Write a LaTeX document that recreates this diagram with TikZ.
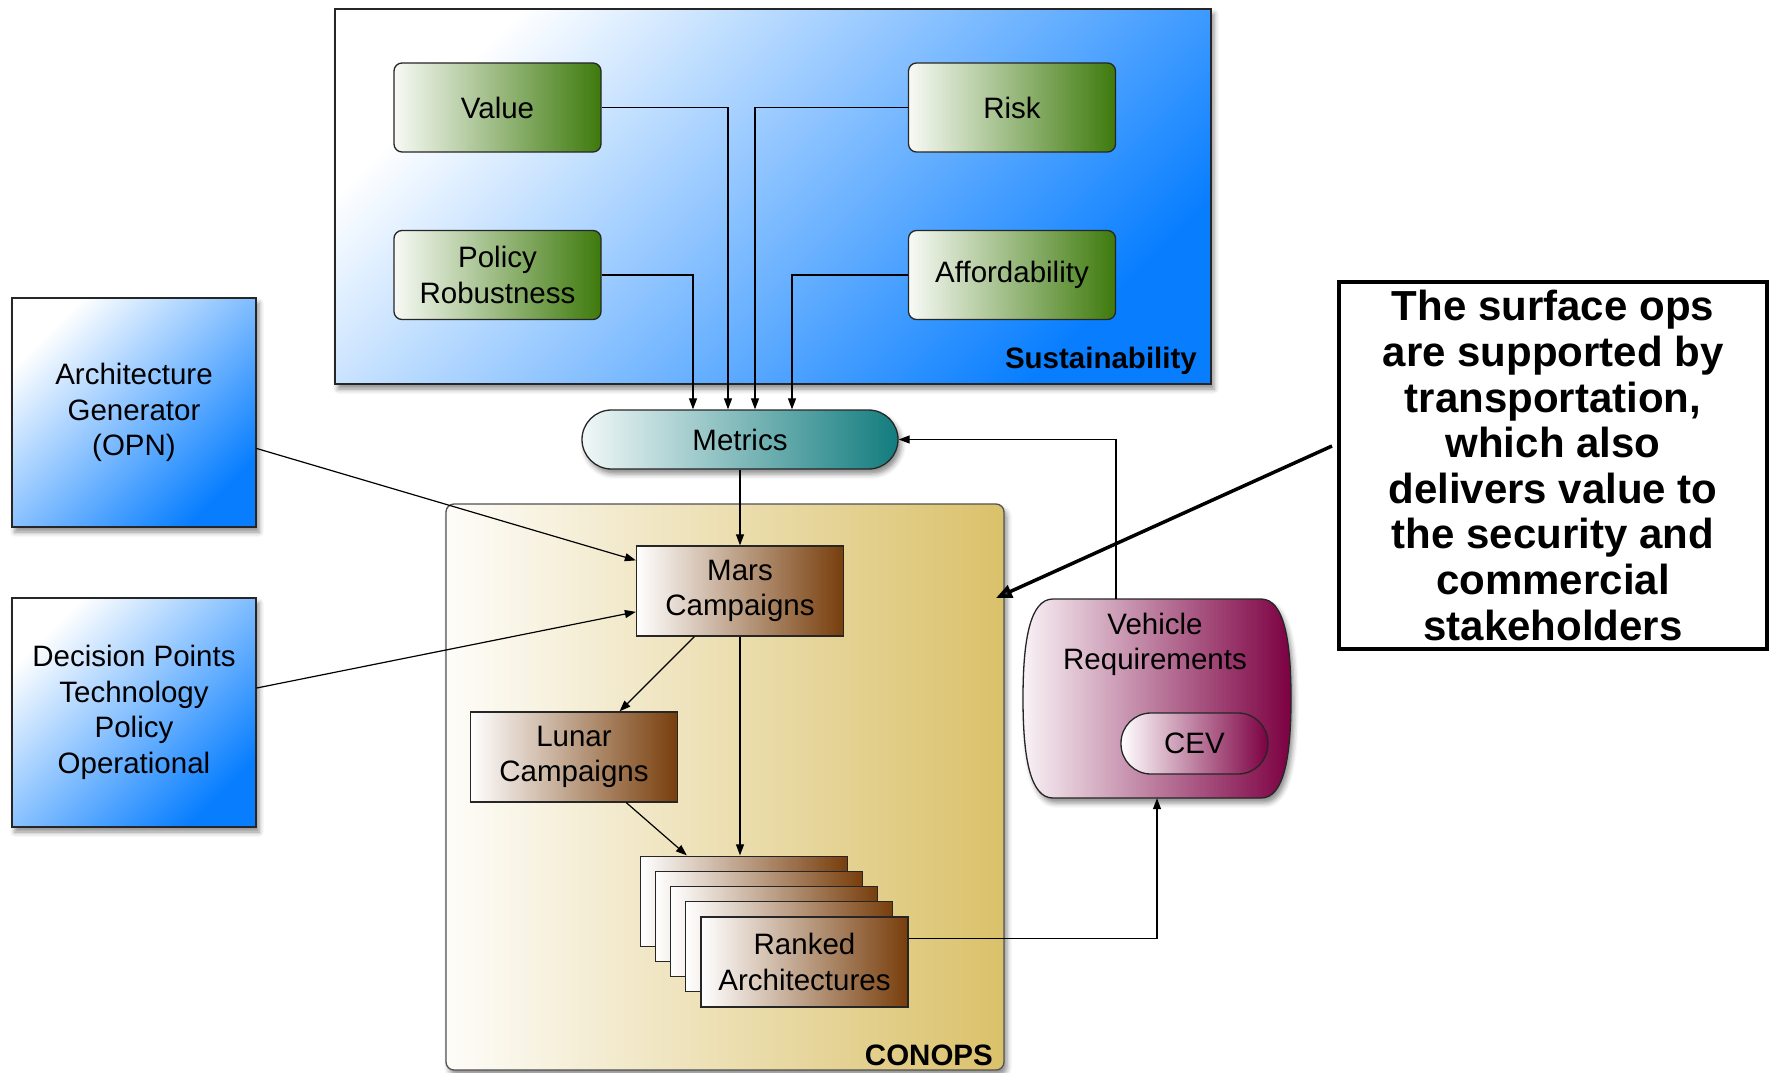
\documentclass[tikz,border=0pt]{standalone}
\usepackage{fontspec}
\setmainfont{Liberation Sans}
\usetikzlibrary{arrows.meta,calc,shadows.blur,fit}

\definecolor{skyblue}{RGB}{8,126,255}
\definecolor{leaf}{RGB}{62,122,12}
\definecolor{bark}{RGB}{120,62,12}
\definecolor{tealc}{RGB}{18,124,126}
\definecolor{sand}{RGB}{218,193,106}
\definecolor{plum}{RGB}{124,0,66}
\definecolor{edge}{RGB}{38,38,38}

\tikzset{
  base/.style={draw=edge, line width=1.3pt, align=center, inner sep=0pt,
    font=\fontsize{29.5}{35.5}\selectfont},
  softshadow/.style={blur shadow={shadow xshift=3pt, shadow yshift=-5pt,
    shadow blur radius=5pt, shadow opacity=45}},
  bluepanel/.style={base, top color=white, bottom color=skyblue, shading angle=45, softshadow},
  greenbox/.style={base, rounded corners=8pt, left color=leaf!4, right color=leaf,
    minimum width=207pt, minimum height=89pt},
  brownbox/.style={base, left color=white, right color=bark,
    minimum width=207pt, minimum height=90pt},
  flow/.style={line width=1.2pt, draw=black, -{Triangle[length=11pt,width=8pt]}},
  panellabel/.style={font=\fontsize{29.5}{35.5}\selectfont\bfseries, anchor=east, inner sep=0pt}
}

\begin{document}
\begin{tikzpicture}[x=1pt, y=-1pt]
\useasboundingbox (0,0) rectangle (1769,1073);

% Sustainability panel and its four measures
\node[bluepanel, minimum width=876pt, minimum height=375pt] (sust) at (773,196.5) {};
\node[panellabel] (sustlabel) at (1197,361) {Sustainability};
\node[greenbox] (value) at (497.5,107.5) {Value};
\node[greenbox] (risk) at (1012,107.5) {Risk};
\node[greenbox] (policy) at (497.5,275) {Policy\\Robustness};
\node[greenbox] (afford) at (1012,275) {Affordability};

% Metrics terminator
\node[base, rounded corners=29.5pt, left color=tealc!6, right color=tealc,
  minimum width=316pt, minimum height=59pt, softshadow] (metrics) at (740,439.5) {Metrics};

% CONOPS panel
\node[base, draw=edge!80, rounded corners=8pt, left color=sand!4, right color=sand,
  minimum width=558pt, minimum height=566pt, softshadow] (conops) at (725,787) {};
\node[panellabel] (conopslabel) at (993,1055) {CONOPS};

\node[brownbox] (mars) at (740,591) {Mars\\Campaigns};
\node[brownbox] (lunar) at (574,757) {Lunar\\Campaigns};

% Stack of ranked architectures
\node[brownbox] (r1) at (743.7,901.2) {};
\node[brownbox] (r2) at (758.9,916.4) {};
\node[brownbox] (r3) at (774.1,931.6) {};
\node[brownbox] (r4) at (789.3,946.8) {};
\node[brownbox] (ranked) at (804.5,962) {Ranked\\Architectures};
\node[fit=(r1)(ranked), inner sep=0pt] (stack) {};

% Input panels on the left
\node[bluepanel, minimum width=244pt, minimum height=229pt] (arch) at (134,412.5)
  {Architecture\\Generator\\(OPN)};
\node[bluepanel, minimum width=244pt, minimum height=229pt] (decision) at (134,712.5)
  {Decision Points\\Technology\\Policy\\Operational};

% Vehicle requirements barrel
\path[draw=edge, line width=1.3pt, left color=plum!5, right color=plum, softshadow]
  (1053,599) -- (1261,599)
  .. controls (1284,599) and (1291,640) .. (1291,698.5)
  .. controls (1291,757) and (1284,798) .. (1261,798)
  -- (1053,798)
  .. controls (1030,798) and (1023,757) .. (1023,698.5)
  .. controls (1023,640) and (1030,599) .. (1053,599) -- cycle;
\node[minimum width=268pt, minimum height=199pt, inner sep=0pt] (vehicle) at (1157,698.5) {};
\node[align=center, inner sep=0pt, font=\fontsize{29.5}{35.5}\selectfont] (vehtext) at (1155,644.5)
  {Vehicle\\Requirements};
\node[base, rounded corners=30pt, left color=white, right color=plum,
  minimum width=147pt, minimum height=61pt] (cev) at (1194.5,743.5) {CEV};

% Connectors into Metrics
\draw[flow] (policy.east) -| ($(metrics.north)+(-47,0)$);
\draw[flow] (value.east) -| ($(metrics.north)+(-12,0)$);
\draw[flow] (risk.west) -| ($(metrics.north)+(15,0)$);
\draw[flow] (afford.west) -| ($(metrics.north)+(52,0)$);
\draw[flow] ($(vehicle.north)+(-41,0)$) |- (metrics.east);

% Flow through CONOPS
\draw[flow] (metrics.south) -- (mars.north);
\draw[flow] (arch) -- (mars);
\draw[flow] (decision) -- (mars);
\draw[flow] (mars) -- (lunar);
\draw[flow] (mars.south) -- (mars.south |- stack.north);
\draw[flow] (lunar) -- (stack);
\draw[flow] ($(stack.east)+(0,7)$) -| (vehicle.south);

% Annotation
\node[draw=black, line width=3.5pt, fill=white, align=center, inner sep=0pt,
  minimum width=428pt, minimum height=367pt,
  font=\fontsize{42}{45.6}\selectfont\bfseries] (callout) at (1553,465.5)
  {The surface ops\\are supported by\\transportation,\\which also\\delivers value to\\the security and\\commercial\\stakeholders};
\coordinate (calloutfoot) at (1332,446);
\coordinate (callouttip) at (996,598);
\draw[line width=3.5pt, -{Triangle[length=16pt,width=13pt]}] (calloutfoot) -- (callouttip);
\end{tikzpicture}
\end{document}
